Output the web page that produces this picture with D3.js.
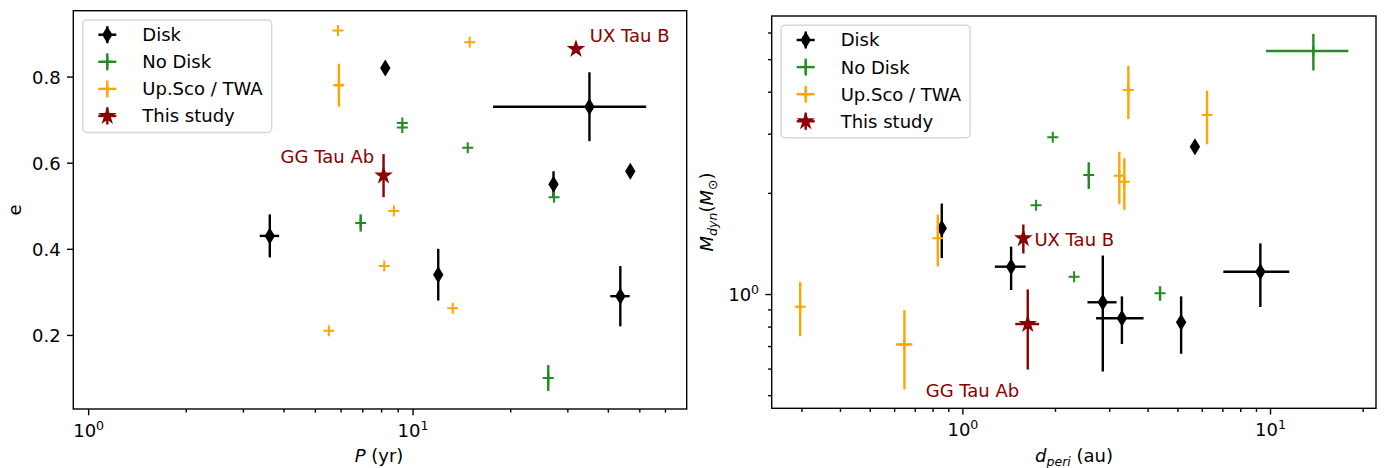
<!DOCTYPE html>
<html>
<head>
<meta charset="utf-8">
<script src="https://cdn.jsdelivr.net/npm/d3@7"></script>
<style>
    body { margin: 0; background: #fff; }
    svg { font-family: "DejaVu Sans", sans-serif; }
</style>
</head>
<body>
<svg id="chart" width="1385" height="468"></svg>
<script>
// ---- left panel: orbital period P (yr) vs eccentricity e ----
// each row: [P, e, P error, e error]
const periodDisk = [
    [3.63, 0.43, 0.25, 0.05],
    [8.24, 0.82, 0, 0.01],
    [12.0, 0.34, 0, 0.06],
    [27.2, 0.55, 0, 0.03],
    [35.1, 0.73, 17.4, 0.08],
    [43.7, 0.29, 3.0, 0.07],
    [46.9, 0.58, 0, 0.01],
];
const periodNoDisk = [
    [9.3, 0.692, 0, 0],
    [9.3, 0.682, 0, 0],
    [14.8, 0.635, 0, 0],
    [6.92, 0.46, 0, 0.02],
    [27.3, 0.52, 0, 0],
    [26.2, 0.10, 0, 0.03],
];
const periodUpSco = [
    [5.89, 0.907, 0, 0],
    [5.93, 0.78, 0.2, 0.05],
    [15.0, 0.88, 0, 0],
    [8.76, 0.488, 0, 0],
    [8.18, 0.36, 0, 0],
    [5.52, 0.21, 0, 0],
    [13.3, 0.262, 0, 0],
];
const periodThisStudy = [
    [8.14, 0.57, 0, 0.05],
    [31.9, 0.864, 0, 0],
];
const periodNotes = [["GG Tau Ab", 3.92, 0.600], ["UX Tau B", 35.2, 0.881]];

// ---- right panel: periastron distance (au) vs dynamical mass ----
// each row: [d_peri, M_dyn, d error, M error]
const periDisk = [
    [0.857, 1.569, 0, 0.29],
    [1.44, 1.206, 0.165, 0.178],
    [2.86, 0.945, 0.31, 0.357],
    [3.30, 0.847, 0.58, 0.137],
    [5.14, 0.824, 0, 0.16],
    [5.70, 2.744, 0, 0.05],
    [9.30, 1.165, 2.25, 0.25],
];
const periNoDisk = [
    [1.967, 2.926, 0, 0],
    [1.736, 1.836, 0, 0],
    [2.575, 2.261, 0, 0.206],
    [2.307, 1.126, 0, 0],
    [4.39, 1.005, 0, 0.05],
    [13.83, 5.287, 4.13, 0.66],
];
const periUpSco = [
    [0.297, 0.917, 0, 0.168],
    [0.648, 0.708, 0.04, 0.187],
    [0.832, 1.465, 0, 0.257],
    [3.237, 2.25, 0, 0.40],
    [3.36, 2.159, 0, 0.378],
    [3.463, 4.047, 0, 0.73],
    [6.24, 3.41, 0, 0.62],
];
const periThisStudy = [
    [1.631, 0.814, 0.145, 0.218],
    [1.578, 1.465, 0, 0.145],
];
const periNotes = [["UX Tau B", 1.714, 1.39], ["GG Tau Ab", 0.760, 0.495]];

const LEGEND_NAMES = ["Disk", "No Disk", "Up.Sco / TWA", "This study"];
const periodTicks = [1, 10];
const periodMinor = [2, 3, 4, 5, 6, 7, 8, 9, 20, 30, 40, 50, 60];
const eTicks = [0.2, 0.4, 0.6, 0.8];
const periTicks = [1, 10];
const periMinor = [0.3, 0.4, 0.5, 0.6, 0.7, 0.8, 0.9, 2, 3, 4, 5, 6, 7, 8, 9, 20];
const massTicks = [1];
const massMinor = [0.5, 0.6, 0.7, 0.8, 0.9, 2, 3, 4, 5, 6];

const STYLES = [
    { color: "black", marker: "diamond" },
    { color: "#228b22", marker: "plus" },
    { color: "orange", marker: "plus" },
    { color: "darkred", marker: "star" },
];

const svg = d3.select("#chart");
const FONT = 18;

const starPath = (() => {
    let R = 9.8, r = 3.74, pts = [];
    for (let i = 0; i < 10; i++) {
        let a = -Math.PI / 2 + i * Math.PI / 5;
        let rr = i % 2 === 0 ? R : r;
        pts.push([rr * Math.cos(a), rr * Math.sin(a)]);
    }
    return "M" + pts.map((p) => p[0].toFixed(2) + "," + p[1].toFixed(2)).join("L") + "Z";
})();

const drawMarker = (g, type, color, x, y) => {
    if (type === "diamond") {
        g.append("path").attr("d", "M0,-8.5L5.2,0L0,8.5L-5.2,0Z")
            .attr("transform", `translate(${x},${y})`).attr("fill", color);
    } else if (type === "plus") {
        g.append("path").attr("d", "M-5.5,0H5.5M0,-5.5V5.5")
            .attr("transform", `translate(${x},${y})`)
            .attr("stroke", color).attr("stroke-width", 2).attr("fill", "none");
    } else {
        g.append("path").attr("d", starPath)
            .attr("transform", `translate(${x},${y})`).attr("fill", color);
    }
};

const powLabels = (axisG) => {
    axisG.selectAll(".tick text").each(function (d) {
        const t = d3.select(this);
        const exp = Math.round(Math.log10(d));
        t.text(null);
        t.append("tspan").text("10");
        t.append("tspan").attr("dy", -7).attr("font-size", 12.6).text(exp);
    });
};

const styleAxis = (axisG) => {
    axisG.select(".domain").remove();
    axisG.selectAll(".tick line").attr("stroke", "black").attr("stroke-width", 1.4);
    axisG.selectAll(".tick text").attr("font-size", FONT).attr("fill", "black")
        .attr("font-family", "DejaVu Sans");
};

const drawPanel = (p) => {
    const g = svg.append("g");
    const [x0, x1] = p.x.range();
    const [y1, y0] = p.y.range();

    // x axis
    const xa = g.append("g").attr("transform", `translate(0,${y1})`)
        .call(d3.axisBottom(p.x).tickValues(p.xTicks).tickSize(6.3).tickPadding(6));
    styleAxis(xa);
    xa.selectAll(".tick text").attr("y", 28).attr("dy", 0);
    powLabels(xa);
    const xm = g.append("g").attr("transform", `translate(0,${y1})`)
        .call(d3.axisBottom(p.x).tickValues(p.xMinor).tickSize(3.6).tickFormat(""));
    styleAxis(xm);

    // y axis
    const ya = g.append("g").attr("transform", `translate(${x0},0)`)
        .call(d3.axisLeft(p.y).tickValues(p.yTicks).tickSize(6.3).tickPadding(6.3)
            .tickFormat(p.yLog ? null : d3.format(".1f")));
    styleAxis(ya);
    ya.selectAll(".tick text").attr("dy", "0.36em");
    if (p.yLog) powLabels(ya);
    if (p.yMinor) {
        const ym = g.append("g").attr("transform", `translate(${x0},0)`)
            .call(d3.axisLeft(p.y).tickValues(p.yMinor).tickSize(3.6).tickFormat(""));
        styleAxis(ym);
    }

    // series: error bars then markers
    const plot = g.append("g");
    p.series.forEach((rows, si) => {
        const st = STYLES[si];
        const sg = plot.append("g");
        rows.forEach((r) => {
            const [vx, vy, ex, ey] = r;
            if (ex > 0) {
                sg.append("line").attr("x1", p.x(vx - ex)).attr("x2", p.x(vx + ex))
                    .attr("y1", p.y(vy)).attr("y2", p.y(vy))
                    .attr("stroke", st.color).attr("stroke-width", 2.4);
            }
            if (ey > 0) {
                sg.append("line").attr("x1", p.x(vx)).attr("x2", p.x(vx))
                    .attr("y1", p.y(vy - ey)).attr("y2", p.y(vy + ey))
                    .attr("stroke", st.color).attr("stroke-width", 2.4);
            }
        });
        rows.forEach((r) => drawMarker(sg, st.marker, st.color, p.x(r[0]), p.y(r[1])));
    });

    // annotations
    p.notes.forEach((n) => {
        g.append("text").attr("x", p.x(n[1])).attr("y", p.y(n[2]))
            .attr("font-size", FONT).attr("fill", "darkred").text(n[0]);
    });

    // frame
    g.append("rect").attr("x", x0).attr("y", y0).attr("width", x1 - x0).attr("height", y1 - y0)
        .attr("fill", "none").attr("stroke", "black").attr("stroke-width", 1.4);

    // legend
    const lg = g.append("g").attr("transform", `translate(${x0 + 9.4},${y0 + 9.3})`);
    lg.append("rect").attr("width", 189).attr("height", 112.5).attr("rx", 4)
        .attr("fill", "white").attr("fill-opacity", 0.8)
        .attr("stroke", "#d6d6d6").attr("stroke-width", 1.4);
    LEGEND_NAMES.forEach((name, i) => {
        const ly = 14.7 + i * 27.1;
        const st = STYLES[i];
        lg.append("line").attr("x1", 15.6).attr("x2", 33.6).attr("y1", ly).attr("y2", ly)
            .attr("stroke", st.color).attr("stroke-width", 2.4);
        lg.append("line").attr("x1", 24.6).attr("x2", 24.6).attr("y1", ly - 8.5).attr("y2", ly + 8.5)
            .attr("stroke", st.color).attr("stroke-width", 2.4);
        drawMarker(lg, st.marker, st.color, 24.6, ly);
        lg.append("text").attr("x", 59.6).attr("y", ly).attr("dy", "0.36em")
            .attr("font-size", FONT).attr("fill", "black").text(name);
    });
    return g;
};

// scales
const xPeriod = d3.scaleLog().domain([0.9, 70]).range([73.3, 686.7]);
const yEcc = d3.scaleLinear().domain([0.028, 0.953]).range([409, 10.7]);
const xPeri = d3.scaleLog().domain([0.24, 22.1]).range([771.7, 1376]);
const yMass = d3.scaleLog().domain([0.457, 6.72]).range([408.3, 16]);

drawPanel({
    x: xPeriod, y: yEcc, xTicks: periodTicks, xMinor: periodMinor, yTicks: eTicks,
    series: [periodDisk, periodNoDisk, periodUpSco, periodThisStudy], notes: periodNotes,
});
drawPanel({
    x: xPeri, y: yMass, xTicks: periTicks, xMinor: periMinor, yTicks: massTicks, yMinor: massMinor,
    yLog: true, series: [periDisk, periNoDisk, periUpSco, periThisStudy], notes: periNotes,
});

// axis titles
const t1 = svg.append("text").attr("x", 379).attr("y", 462).attr("text-anchor", "middle")
    .attr("font-size", FONT);
t1.append("tspan").attr("font-style", "italic").text("P");
t1.append("tspan").text(" (yr)");

svg.append("text").attr("transform", "translate(15,210) rotate(-90)").attr("dy", "0.35em")
    .attr("text-anchor", "middle").attr("font-size", FONT).text("e");

const t2 = svg.append("text").attr("x", 1074).attr("y", 462).attr("text-anchor", "middle")
    .attr("font-size", FONT);
t2.append("tspan").attr("font-style", "italic").text("d");
t2.append("tspan").attr("font-style", "italic").attr("font-size", 12.6).attr("dy", 3.5).text("peri");
t2.append("tspan").attr("dy", -3.5).text(" (au)");

const t3 = svg.append("text").attr("transform", "translate(707,212) rotate(-90)").attr("dy", "0.35em")
    .attr("text-anchor", "middle").attr("font-size", FONT);
t3.append("tspan").attr("font-style", "italic").text("M");
t3.append("tspan").attr("font-style", "italic").attr("font-size", 12.6).attr("dy", 3.5).text("dyn");
t3.append("tspan").attr("dy", -3.5).text("(");
t3.append("tspan").attr("font-style", "italic").text("M");
t3.append("tspan").attr("font-size", 12.6).attr("dy", 3.5).text("\u2299");
t3.append("tspan").attr("dy", -3.5).text(")");
</script>
</body>
</html>
